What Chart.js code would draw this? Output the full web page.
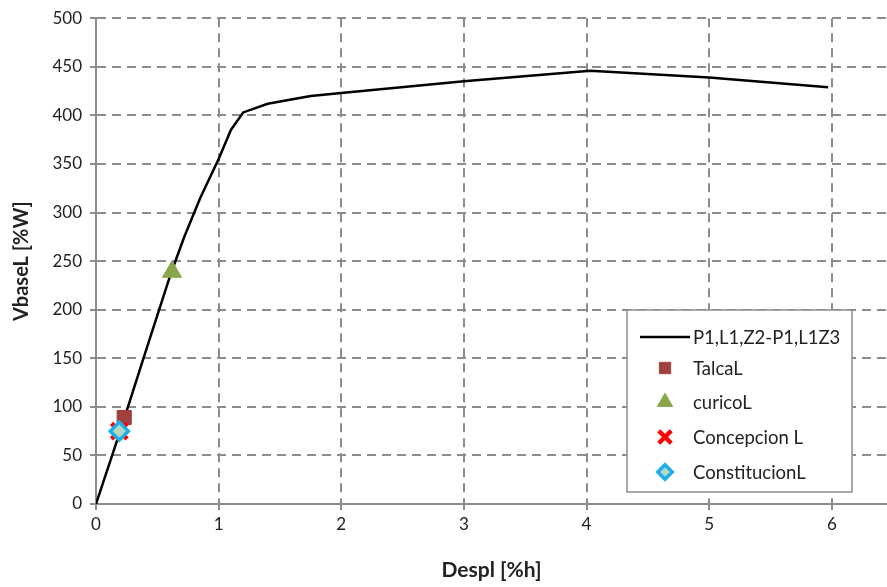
<!DOCTYPE html>
<html>
<head>
<meta charset="utf-8">
<script src="https://cdn.jsdelivr.net/npm/chart.js@4.4.1/dist/chart.umd.min.js"></script>
<style>
    html, body { margin: 0; padding: 0; background: #fff; overflow: hidden; }
    #wrap { width: 887px; height: 587px; position: relative; }
    canvas { display: block; }
</style>
</head>
<body>
<div id="wrap"><canvas id="pushover"></canvas></div>
<script>
// pushover curve (Despl [%h] vs VbaseL [%W])
const curveX = [0, 0.2, 0.4, 0.61, 0.72, 0.85, 1.0, 1.1, 1.2, 1.4, 1.75, 2.0, 3.0, 4.03, 5.0, 5.97];
const curveY = [0, 76, 155, 237, 275, 315, 355, 385, 403, 412, 420, 423, 435, 446, 439, 429];

// seismic records
const talcaPt = [0.23, 89];
const curicoPt = [0.62, 239];
const concepcionPt = [0.19, 75];
const constitucionPt = [0.19, 75];

const seriesNames = ['P1,L1,Z2-P1,L1Z3', 'TalcaL', 'curicoL', 'Concepcion L', 'ConstitucionL'];
const xTicks = [0, 1, 2, 3, 4, 5, 6];
const yMax = 500;

const FONT = 'Lato, "Open Sans", sans-serif';
const GRID = '#8c8c8c';

const toPts = (xs, ys) => xs.map((x, i) => ({ x: x, y: ys[i] }));
const onePt = p => [{ x: p[0], y: p[1] }];

// legend box drawn inside the plot, like the original
const boxLegend = {
    id: 'boxLegend',
    afterDraw(chart) {
        const ctx = chart.ctx;
        const x0 = 627, y0 = 310, w = 225, h = 182;
        ctx.save();
        ctx.fillStyle = '#fff';
        ctx.fillRect(x0, y0, w, h);
        ctx.strokeStyle = '#8c8c8c';
        ctx.lineWidth = 1.5;
        ctx.strokeRect(x0, y0, w, h);
        ctx.textBaseline = 'middle';
        const rows = [337, 368, 402, 437, 472];
        chart.data.datasets.forEach((ds, i) => {
            const cy = rows[i];
            if (i === 0) {
                ctx.strokeStyle = ds.borderColor;
                ctx.lineWidth = 2.5;
                ctx.beginPath();
                ctx.moveTo(640, cy);
                ctx.lineTo(690, cy);
                ctx.stroke();
            } else {
                ctx.fillStyle = ds.backgroundColor;
                ctx.strokeStyle = ds.borderColor;
                ctx.lineWidth = ds.borderWidth;
                Chart.helpers.drawPoint(ctx, {
                    pointStyle: ds.pointStyle,
                    radius: ds.pointRadius * 0.8,
                    rotation: 0,
                    borderWidth: ds.borderWidth
                }, 665, cy);
            }
            ctx.font = '18.5px ' + FONT;
            ctx.fillStyle = '#222';
            ctx.fillText(ds.label, 693, cy + 1);
        });
        ctx.restore();
    }
};

new Chart(document.getElementById('pushover'), {
    type: 'scatter',
    data: {
        datasets: [
            { label: seriesNames[0], data: toPts(curveX, curveY), showLine: true, borderColor: '#000', borderWidth: 2.5, pointRadius: 0, fill: false, order: 5 },
            { label: seriesNames[1], data: onePt(talcaPt), pointStyle: 'rect', pointRadius: 10, backgroundColor: '#A0413E', borderColor: '#A0413E', borderWidth: 1, order: 4 },
            { label: seriesNames[2], data: onePt(curicoPt), pointStyle: 'triangle', pointRadius: 11, backgroundColor: '#8AA64A', borderColor: '#8AA64A', borderWidth: 1, order: 3 },
            { label: seriesNames[3], data: onePt(concepcionPt), pointStyle: 'crossRot', pointRadius: 11, backgroundColor: '#FF0000', borderColor: '#FF0000', borderWidth: 4.5, order: 2 },
            { label: seriesNames[4], data: onePt(constitucionPt), pointStyle: 'rectRot', pointRadius: 9, backgroundColor: '#B5D8C0', borderColor: '#1EAEEB', borderWidth: 3.5, order: 1 }
        ]
    },
    options: {
        responsive: true,
        maintainAspectRatio: false,
        animation: false,
        layout: { autoPadding: false, padding: { top: 18, right: 0, left: 0, bottom: 0 } },
        plugins: {
            legend: { display: false },
            tooltip: { enabled: false }
        },
        scales: {
            x: {
                type: 'linear',
                min: 0,
                max: 6.45,
                afterBuildTicks: s => { s.ticks = xTicks.map(v => ({ value: v })); },
                afterFit: s => { s.height = 83; s.paddingLeft = 0; s.paddingRight = 0; },
                ticks: { color: '#222', font: { family: FONT, size: 17 }, padding: 4 },
                grid: { color: GRID, lineWidth: 2, tickLength: 6, tickColor: GRID, tickBorderDash: [] },
                border: { display: true, color: GRID, width: 2, dash: [9, 6] },
                title: { display: true, text: 'Despl [%h]', color: '#222', font: { family: FONT, size: 21, weight: 'bold' }, padding: { top: 10 } }
            },
            y: {
                min: 0,
                max: yMax,
                ticks: { stepSize: 50, color: '#222', font: { family: FONT, size: 17 }, padding: 8 },
                afterFit: s => { s.width = 96; },
                grid: { color: GRID, lineWidth: 2, tickLength: 6, tickColor: GRID, tickBorderDash: [] },
                border: { display: true, color: GRID, width: 2, dash: [9, 6] },
                title: { display: true, text: 'VbaseL [%W]', color: '#222', font: { family: FONT, size: 20, weight: 'bold' }, padding: { top: 10, bottom: 0 } }
            }
        }
    },
    plugins: [boxLegend]
});
</script>
</body>
</html>
